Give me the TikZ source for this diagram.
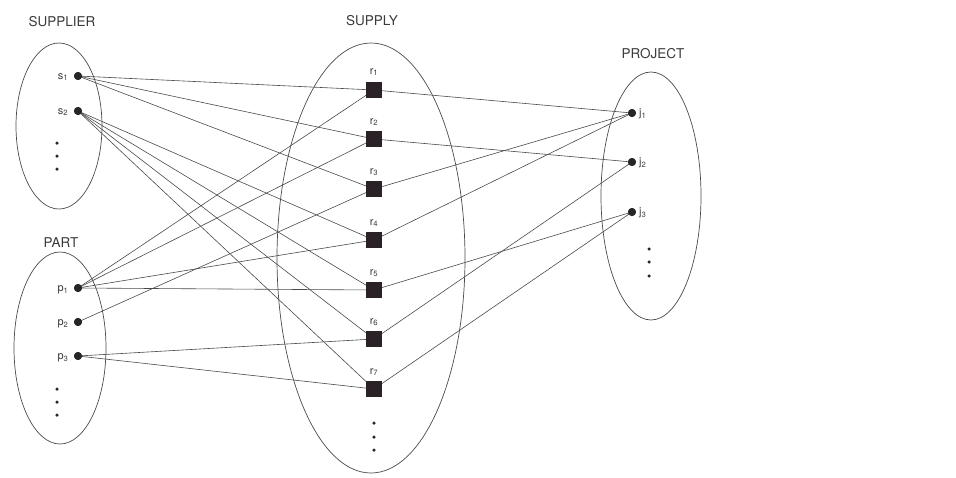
\documentclass[tikz,border=0pt]{standalone}
\usepackage{fontspec}
\setmainfont{TeX Gyre Heros}
\definecolor{txt}{HTML}{3A3A3A}
\definecolor{ln}{HTML}{4A4A4A}
\definecolor{sq}{HTML}{2B2228}
\begin{document}
\begin{tikzpicture}[x=1pt,y=-1pt,
  title/.style={text=txt,font=\fontsize{13.5}{15}\selectfont,inner sep=0},
  lbl/.style={text=txt,font=\fontsize{11}{13}\selectfont,inner sep=0},
  dotnode/.style={circle,fill=black!85,inner sep=0,minimum size=8pt},
  rsq/.style={rectangle,fill=sq,inner sep=0,minimum size=16pt},
  tiny/.style={circle,fill=black!85,inner sep=0,minimum size=3.5pt},
  edge/.style={draw=ln,line width=0.6pt},
  oval/.style={draw=ln,line width=0.7pt}]
\useasboundingbox (0,0) rectangle (956,477);
% ellipses
\draw[oval] (59,126) ellipse [x radius=43pt, y radius=83pt];
\draw[oval] (60,348) ellipse [x radius=46pt, y radius=96pt];
\draw[oval] (371,258) ellipse [x radius=94pt, y radius=215pt];
\draw[oval] (651,196) ellipse [x radius=50pt, y radius=124pt];
% titles
\node[title] (tsup) at (62,22) {SUPPLIER};
\node[title] (tpart) at (61,243) {PART};
\node[title] (tsupply) at (372,21) {SUPPLY};
\node[title] (tproj) at (653,54) {PROJECT};
% supplier
\node[dotnode] (s1) at (78,76) {};
\node[dotnode] (s2) at (78,111) {};
\node[lbl] (ls1) at (63,77) {s\textsubscript{1}};
\node[lbl] (ls2) at (63,112) {s\textsubscript{2}};
\node[tiny] (sd1) at (57,143) {};
\node[tiny] (sd2) at (57,156) {};
\node[tiny] (sd3) at (57,169) {};
% part
\node[dotnode] (p1) at (78,288) {};
\node[dotnode] (p2) at (78,322) {};
\node[dotnode] (p3) at (78,356) {};
\node[lbl] (lp1) at (63,290) {p\textsubscript{1}};
\node[lbl] (lp2) at (63,324) {p\textsubscript{2}};
\node[lbl] (lp3) at (63,358) {p\textsubscript{3}};
\node[tiny] (pd1) at (57,389) {};
\node[tiny] (pd2) at (57,402) {};
\node[tiny] (pd3) at (57,415) {};
% supply
\foreach \i/\y/\ly in {1/90/72,2/139/122,3/189/172,4/240/223,5/290/273,6/339/322,7/389/372}{
  \node[rsq] (r\i) at (374,\y) {};
  \node[lbl] (lr\i) at (374,\ly) {r\textsubscript{\i}};
}
\node[tiny] (rd1) at (374,423) {};
\node[tiny] (rd2) at (374,437) {};
\node[tiny] (rd3) at (374,450) {};
% project
\node[dotnode] (j1) at (632,113) {};
\node[dotnode] (j2) at (632,162) {};
\node[dotnode] (j3) at (632,212) {};
\node[lbl,anchor=west] (lj1) at (639,114) {j\textsubscript{1}};
\node[lbl,anchor=west] (lj2) at (639,163) {j\textsubscript{2}};
\node[lbl,anchor=west] (lj3) at (639,213) {j\textsubscript{3}};
\node[tiny] (jd1) at (649,249) {};
\node[tiny] (jd2) at (649,262) {};
\node[tiny] (jd3) at (649,276) {};
% edges
\foreach \a/\b in {s1/r1,s1/r2,s1/r3,s2/r4,s2/r5,s2/r6,s2/r7,
                   p1/r1,p1/r2,p2/r3,p1/r4,p1/r5,p3/r6,p3/r7,
                   r1/j1,r2/j2,r3/j1,r4/j1,r5/j3,r6/j2,r7/j3}{
  \draw[edge] (\a.center) -- (\b.center);
}
% redraw nodes on top
\foreach \n in {s1,s2,p1,p2,p3,j1,j2,j3}{\fill[black!85] (\n) circle (4pt);}
\foreach \i/\y in {1/90,2/139,3/189,4/240,5/290,6/339,7/389}{\fill[sq] (366,\y-8) rectangle (382,\y+8);}
\end{tikzpicture}
\end{document}
